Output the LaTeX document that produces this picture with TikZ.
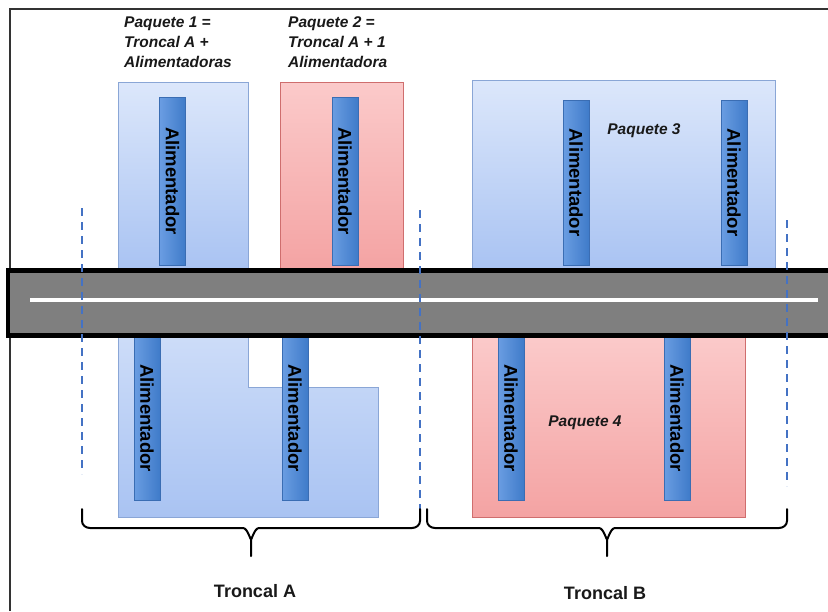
\documentclass[tikz,border=0pt]{standalone}
\usepackage{fontspec}
\setmainfont{Liberation Sans}
\definecolor{bluetop}{HTML}{DCE7FB}
\definecolor{bluebot}{HTML}{A9C3F2}
\definecolor{blueedge}{HTML}{8AA6D6}
\definecolor{redtop}{HTML}{FBCACA}
\definecolor{redbot}{HTML}{F4A3A3}
\definecolor{rededge}{HTML}{CF6E6E}
\definecolor{bartop}{HTML}{6A9DE2}
\definecolor{barbot}{HTML}{3F7BC9}
\definecolor{baredge}{HTML}{3A6DB3}
\definecolor{dashblue}{HTML}{4472C4}
\definecolor{roadgray}{HTML}{7F7F7F}
\begin{document}
\begin{tikzpicture}[x=1pt,y=-1pt,
  bluebox/.style={draw=blueedge, line width=1pt, top color=bluetop, bottom color=bluebot, inner sep=0pt, outer sep=0pt, anchor=north west},
  redbox/.style={draw=rededge, line width=1pt, top color=redtop, bottom color=redbot, inner sep=0pt, outer sep=0pt, anchor=north west},
  feeder/.style={draw=baredge, line width=0.6pt, left color=bartop, right color=barbot, rotate=-90, minimum height=26pt, inner sep=0pt, outer sep=0pt, font=\fontsize{18.5}{18.5}\selectfont\bfseries, text=black},
  title/.style={font=\fontsize{15.5}{20}\selectfont\bfseries\itshape, align=left, anchor=west, inner sep=0pt, text=black!90},
  lbl/.style={font=\fontsize{15.5}{18}\selectfont\bfseries\itshape, inner sep=0pt, text=black!90},
  troncal/.style={font=\fontsize{18}{20}\selectfont\bfseries, inner sep=0pt, text=black!90},
  divider/.style={draw=dashblue, line width=1.6pt, dash pattern=on 8pt off 6pt},
  bracket/.style={draw=black, line width=2pt, line cap=round, line join=round}
]
\useasboundingbox (0,0) rectangle (828,611);
\fill[white] (0,0) rectangle (828,611);

% frame
\draw[line width=2.2pt, color=black!80] (10,611) -- (10,9) -- (828,9);

% titles
\node[title] (t1) at (124,42) {Paquete 1 =\\Troncal A +\\Alimentadoras};
\node[title] (t2) at (288,42) {Paquete 2 =\\Troncal A + 1\\Alimentadora};

% upper packages
\node[bluebox, minimum width=130pt, minimum height=188pt] (p1) at (118,82) {};
\node[redbox, minimum width=123pt, minimum height=188pt] (p2) at (280,82) {};
\node[bluebox, minimum width=303pt, minimum height=190pt] (p3) at (472,80) {};

% lower packages
\path[draw=blueedge, line width=1pt, top color=bluetop!70!bluebot, bottom color=bluebot]
  (118,336) -- (248,336) -- (248,387) -- (378,387) -- (378,517) -- (118,517) -- cycle;
\node[redbox, minimum width=273pt, minimum height=181pt] (p4) at (472,336) {};

% feeders top
\node[feeder, minimum width=168pt] (f1) at (172.5,181) {Alimentador};
\node[feeder, minimum width=168pt] (f2) at (345,181) {Alimentador};
\node[feeder, minimum width=165pt] (f3) at (576,182.5) {Alimentador};
\node[feeder, minimum width=165pt] (f4) at (734,182.5) {Alimentador};
% feeders bottom
\node[feeder, minimum width=165pt] (f5) at (147,418) {Alimentador};
\node[feeder, minimum width=165pt] (f6) at (295,418) {Alimentador};
\node[feeder, minimum width=165pt] (f7) at (511,418) {Alimentador};
\node[feeder, minimum width=165pt] (f8) at (677,418) {Alimentador};

\node[lbl] (l3) at (644,131) {Paquete 3};
\node[lbl] (l4) at (585,423) {Paquete 4};

% road
\draw[fill=roadgray, draw=black, line width=4.5pt] (8,270.5) rectangle (845,335.5);
\coordinate (wl1) at (30,300);
\coordinate (wl2) at (818,300);
\draw[white, line width=4pt] (wl1) -- (wl2);

% dividers
\coordinate (d1a) at (82,208); \coordinate (d1b) at (82,474);
\coordinate (d2a) at (420,210); \coordinate (d2b) at (420,510);
\coordinate (d3a) at (787,220); \coordinate (d3b) at (787,486);
\draw[divider] (d1a) -- (d1b);
\draw[divider] (d2a) -- (d2b);
\draw[divider] (d3a) -- (d3b);

% brackets
\draw[bracket] (82,509) -- (82,521) to[out=-90,in=180] (90,528) -- (243,528) to[out=0,in=-90] (251,538) -- (251,556);
\draw[bracket] (251,538) to[out=-90,in=180] (259,528) -- (412,528) to[out=0,in=-90] (420,521) -- (420,509);
\draw[bracket] (427,509) -- (427,521) to[out=-90,in=180] (435,528) -- (599,528) to[out=0,in=-90] (607,538) -- (607,556);
\draw[bracket] (607,538) to[out=-90,in=180] (615,528) -- (779,528) to[out=0,in=-90] (787,521) -- (787,509);

\node[troncal] (ta) at (255,591) {Troncal A};
\node[troncal] (tb) at (605,593) {Troncal B};
\end{tikzpicture}
\end{document}
